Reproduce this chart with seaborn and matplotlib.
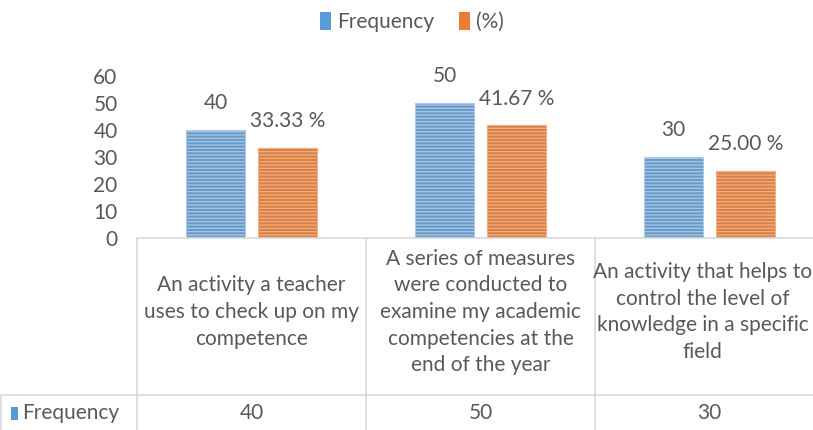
import pandas as pd
import matplotlib
matplotlib.use('Agg')
import matplotlib.pyplot as plt
import matplotlib.transforms as mtransforms
from matplotlib.patches import Patch, Rectangle
from matplotlib.lines import Line2D
import seaborn as sns

# data
categories = [
    'An activity a teacher\nuses to check up on my\ncompetence',
    'A series of measures\nwere conducted to\nexamine my academic\ncompetencies at the\nend of the year',
    'An activity that helps to\ncontrol the level of\nknowledge in a specific\nfield',
]
frequency = [40, 50, 30]
percent = [33.33, 41.67, 25.00]
series_names = ['Frequency', '(%)']
y_ticks = [0, 10, 20, 30, 40, 50, 60]

colors = {'Frequency': '#5B9BD5', '(%)': '#ED7D31'}
stripes = {'Frequency': '#A9C9EA', '(%)': '#F6AE7E'}
text_color = '#595959'
grid_color = '#D9D9D9'
fs = 15

sns.set_theme(style='white')
plt.rcParams['font.family'] = ['Lato', 'DejaVu Sans']
plt.rcParams['hatch.linewidth'] = 0.9

df = pd.DataFrame({
    'category': categories * 2,
    'series': [series_names[0]] * 3 + [series_names[1]] * 3,
    'value': frequency + percent,
})

W, H = 813, 430
fig = plt.figure(figsize=(W / 100, H / 100), dpi=100)

# layout in pixels
plot_left, cat_w = 137, 229
base_y, top_y, row_y = 238, 76, 395


def fy(px):
    return 1 - px / H


ax = fig.add_axes([plot_left / W, fy(base_y), 3 * cat_w / W, (base_y - top_y) / H])
sns.barplot(data=df, x='category', y='value', hue='series', palette=colors,
            width=0.63, gap=0.18, legend=False, ax=ax)
ax.set_xlim(-0.5, 2.5)
ax.set_ylim(0, 60)
ax.set_yticks(y_ticks)
ax.set_xticks([])
ax.set_xlabel('')
ax.set_ylabel('')
ax.tick_params(axis='y', length=0, pad=14, labelsize=fs, labelcolor=text_color)
for s in ax.spines.values():
    s.set_visible(False)

# striped bars + data labels
for cont, name in zip(ax.containers, series_names):
    for bar in cont:
        bar.set_hatch('-----')
        bar.set_edgecolor(stripes[name])
        bar.set_linewidth(0.8)
    vals = frequency if name == 'Frequency' else percent
    labels = [f'{v:d}' for v in vals] if name == 'Frequency' else [f'{v:.2f} %' for v in vals]
    ax.bar_label(cont, labels=labels, padding=12, fontsize=fs, color=text_color)

# data table
trans = mtransforms.blended_transform_factory(ax.transData, fig.transFigure)
fig.add_artist(Line2D([plot_left / W, 1.05], [fy(base_y)] * 2, color=grid_color, lw=1.2))
fig.add_artist(Line2D([0.001, 1.05], [fy(row_y)] * 2, color=grid_color, lw=1.2))
fig.add_artist(Line2D([0.001, 0.001], [0, fy(row_y)], color=grid_color, lw=1.2))
for i in range(4):
    ax.add_line(Line2D([i - 0.5] * 2, [0, fy(base_y)], color=grid_color, lw=1.2,
                       transform=trans, clip_on=False))

renderer = fig.canvas.get_renderer()
for i, (cat, val) in enumerate(zip(categories, frequency)):
    t = ax.text(i, fy(312), cat, transform=trans, ha='center', va='center',
                fontsize=fs, color=text_color, linespacing=1.42, clip_on=False)
    # keep the last cell's text inside the picture
    overflow = t.get_window_extent(renderer).x1 - (W - 1)
    if overflow > 0:
        t.set_transform(mtransforms.offset_copy(trans, fig=fig, x=-overflow, units='dots'))
    ax.text(i, fy(413), str(val), transform=trans, ha='center', va='center',
            fontsize=fs, color=text_color, clip_on=False)

fig.add_artist(Rectangle((11 / W, fy(420)), 7 / W, 13 / H, transform=fig.transFigure,
                         facecolor=colors['Frequency'], edgecolor='none'))
fig.text(22 / W, fy(413), 'Frequency', ha='left', va='center', fontsize=fs, color=text_color)

# legend
handles = [Patch(facecolor=colors[n], edgecolor='none') for n in series_names]
fig.legend(handles, series_names, loc='center', bbox_to_anchor=(412 / W, fy(22)),
           ncol=2, frameon=False, fontsize=fs, handlelength=0.5, handleheight=0.95,
           handletextpad=0.3, columnspacing=1.2, labelcolor=text_color)

fig.savefig('out.png', dpi=100)
